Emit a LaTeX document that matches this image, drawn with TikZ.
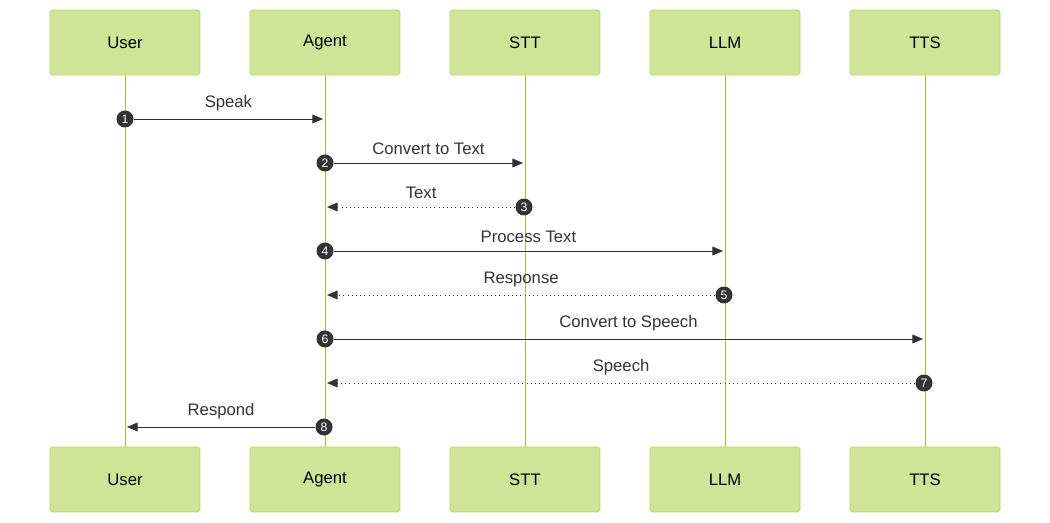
\documentclass[tikz,border=0pt]{standalone}
\usepackage{fontspec}
\setmainfont{Liberation Sans}
\usetikzlibrary{arrows.meta}
\definecolor{boxfill}{RGB}{208,228,152}
\definecolor{boxline}{RGB}{182,214,102}
\definecolor{life}{RGB}{155,197,61}
\definecolor{ink}{RGB}{51,51,51}
\begin{document}
\begin{tikzpicture}[x=0.02cm,y=-0.02cm,
  actor/.style={draw=boxline,fill=boxfill,rounded corners=1pt,minimum width=3cm,minimum height=1.3cm,inner sep=0pt,font=\fontsize{9.5}{11}\selectfont,text=black},
  msg/.style={draw=ink,thin,-{Triangle[length=6pt,width=5pt]}},
  reply/.style={msg,dotted},
  badge/.style={circle,fill=ink,inner sep=0pt,minimum size=0.34cm,text=white,font=\fontsize{7}{8}\selectfont},
  lbl/.style={text=ink,font=\fontsize{9.5}{11}\selectfont,above=1pt}]
\useasboundingbox (0,0) rectangle (1050,523);
% actors and lifelines
\foreach \name/\txt [count=\i from 0] in {user/User,agent/Agent,stt/STT,llm/LLM,tts/TTS}{
  \node[actor] (\name top) at (125+200*\i,42.5) {\txt};
  \node[actor] (\name bot) at (125+200*\i,479.5) {\txt};
  \draw[life,thin] (\name top.south) -- (\name bot.north);
}
% messages
\node[badge] (b1) at (125,119) {1};
\coordinate (e1) at (323,119);
\draw[msg] (b1) -- (e1) node[lbl,midway] {Speak};
\node[badge] (b2) at (325,163) {2};
\coordinate (e2) at (523,163);
\draw[msg] (b2) -- (e2) node[lbl,midway] {Convert to Text};
\node[badge] (b3) at (524,207) {3};
\coordinate (e3) at (327,207);
\draw[reply] (b3) -- (e3) node[lbl,midway] {Text};
\node[badge] (b4) at (325,251) {4};
\coordinate (e4) at (723,251);
\draw[msg] (b4) -- (e4) node[lbl,midway] {Process Text};
\node[badge] (b5) at (724,295) {5};
\coordinate (e5) at (327,295);
\draw[reply] (b5) -- (e5) node[lbl,midway] {Response};
\node[badge] (b6) at (325,339) {6};
\coordinate (e6) at (923,339);
\draw[msg] (b6) -- (e6) node[lbl,midway] {Convert to Speech};
\node[badge] (b7) at (924,383) {7};
\coordinate (e7) at (327,383);
\draw[reply] (b7) -- (e7) node[lbl,midway] {Speech};
\node[badge] (b8) at (324,427) {8};
\coordinate (e8) at (127,427);
\draw[msg] (b8) -- (e8) node[lbl,midway] {Respond};
\end{tikzpicture}
\end{document}
